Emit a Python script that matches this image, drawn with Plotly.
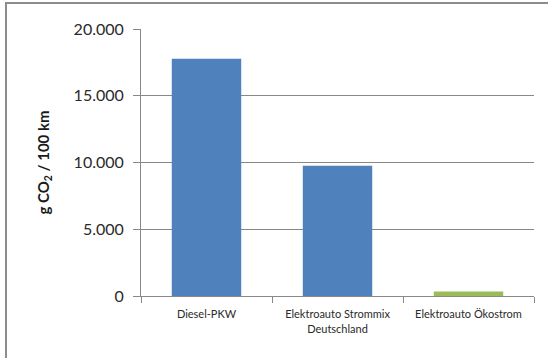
import plotly.graph_objects as go

# CO2 emissions per 100 km by vehicle type
categories = ["Diesel-PKW", "Elektroauto Strommix<br>Deutschland", "Elektroauto Ökostrom"]
emissions = [17770, 9760, 340]
bar_colors = ["#4F81BD", "#4F81BD", "#9BBB59"]
y_ticks = [0, 5000, 10000, 15000, 20000]

W, H = 548, 358
ml, mr, mt, mb = 141, 14, 29, 62
pw, ph = W - ml - mr, H - mt - mb

fig = go.Figure(
    go.Bar(
        x=categories,
        y=emissions,
        marker=dict(color=bar_colors, line=dict(width=0)),
        width=0.53,
    )
)

grid = "#888888"
fig.update_layout(
    width=W,
    height=H,
    margin=dict(l=ml, r=mr, t=mt, b=mb),
    paper_bgcolor="white",
    plot_bgcolor="white",
    separators=",.",
    showlegend=False,
    font=dict(family="Lato, Liberation Sans, sans-serif", color="#2a2a2a"),
    xaxis=dict(
        showline=True,
        linecolor=grid,
        linewidth=1,
        ticks="outside",
        tickson="boundaries",
        ticklen=6,
        tickcolor=grid,
        tickfont=dict(size=11),
        ticklabelstandoff=8,
        showgrid=False,
    ),
    yaxis=dict(
        range=[0, 20000],
        tickvals=y_ticks,
        tickformat=",.0f",
        showline=True,
        linecolor=grid,
        linewidth=1,
        ticks="outside",
        ticklen=7,
        tickcolor=grid,
        showgrid=True,
        gridcolor=grid,
        gridwidth=1,
        zeroline=False,
        tickfont=dict(size=16),
        ticklabelstandoff=6,
        title=dict(
            text="<b>g CO<sub>2</sub> / 100 km</b>",
            font=dict(size=15, color="#1a1a1a"),
            standoff=20,
        ),
    ),
)

# outer frame of the chart area
x0 = (6 - ml) / pw
y1 = (H - mb - 3) / ph
fig.add_shape(
    type="rect",
    xref="paper",
    yref="paper",
    x0=x0,
    x1=(W + 10 - ml) / pw,
    y0=-(mb + 10) / ph,
    y1=y1,
    line=dict(color="#8C8C8C", width=2),
    fillcolor="rgba(0,0,0,0)",
    layer="above",
)

fig.write_html("out.html")
